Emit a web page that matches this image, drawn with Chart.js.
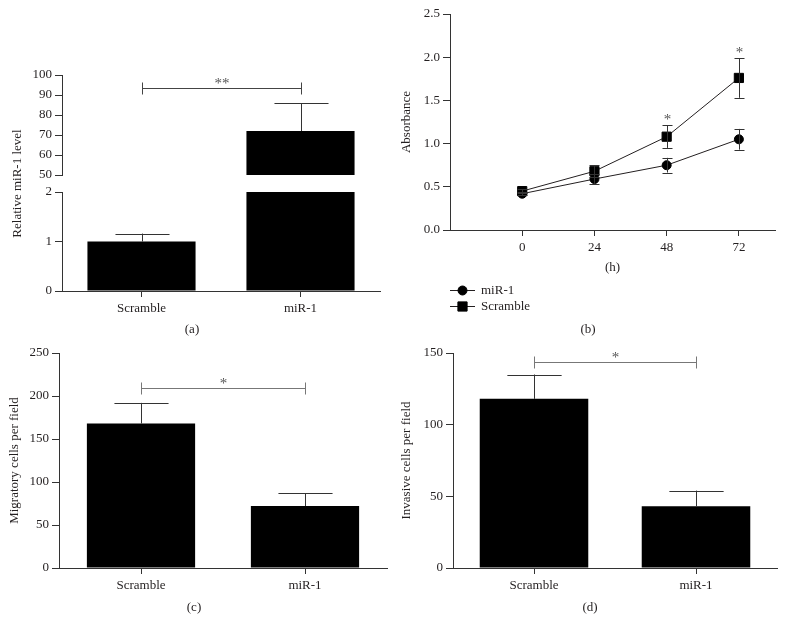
<!DOCTYPE html>
<html><head><meta charset="utf-8">
<script src="https://cdn.jsdelivr.net/npm/chart.js@4.4.0/dist/chart.umd.min.js"></script>
<style>
html,body{margin:0;padding:0;background:#fff;}
body{width:785px;height:634px;position:relative;overflow:hidden;font-family:'Liberation Serif',serif;}
canvas{position:absolute;}
.lbl{position:absolute;font-size:13px;color:#231f20;transform:translateX(-50%);white-space:nowrap;line-height:13px;}
</style></head>
<body>
<canvas id="ca" width="390" height="270" style="left:0;top:60px"></canvas>
<canvas id="cb" width="390" height="320" style="left:395px;top:0"></canvas>
<canvas id="cc" width="390" height="304" style="left:0;top:330px"></canvas>
<canvas id="cd" width="393" height="304" style="left:392px;top:330px"></canvas>
<div class="lbl" style="left:192px;top:322px">(a)</div>
<div class="lbl" style="left:588px;top:322px">(b)</div>
<div class="lbl" style="left:194px;top:600px">(c)</div>
<div class="lbl" style="left:590px;top:600px">(d)</div>
<script>
// ---------- data ----------
const barCategories = ['Scramble', 'miR-1'];
const relLevel = [1, 72];
const relLevelErr = [0.16, 14];
const relLowRange = [0, 2];
const relHighRange = [50, 100];
const relLowTicks = 1;
const relHighTicks = 10;
const relBracket = 93.5;

const hours = [0, 24, 48, 72];
const absMiR1 = [0.42, 0.59, 0.75, 1.05];
const absMiR1Err = [0.02, 0.06, 0.085, 0.12];
const absScramble = [0.45, 0.68, 1.08, 1.76];
const absScrambleErr = [0.02, 0.07, 0.13, 0.23];
const absStarIdx = [2, 3];

const migratory = [168, 72];
const migratoryErr = [24, 15];
const migratoryBracket = 209;

const invasive = [118, 43];
const invasiveErr = [17, 11];
const invasiveBracket = 143.5;

// ---------- style ----------
const ink = '#231f20';
const axisInk = '#333333';
Chart.defaults.font.family = "'Liberation Serif', serif";
Chart.defaults.font.size = 13;
Chart.defaults.color = ink;

const annotPlugin = {
  id: 'annot',
  afterDatasetsDraw(chart, args, opts) {
    const ctx = chart.ctx;
    ctx.save();
    ctx.lineWidth = 1;
    (opts.errorBars || []).forEach(eb => {
      const meta = chart.getDatasetMeta(eb.dataset);
      const ys = chart.scales[meta.yAxisID];
      eb.values.forEach((v, j) => {
        if (v == null || eb.errors[j] == null) return;
        const el = meta.data[j];
        const x = Math.round(el.x) + 0.5;
        const half = eb.capHalf != null ? eb.capHalf : el.width / 4;
        const yHi = ys.getPixelForValue(v + eb.errors[j]);
        const yLo = eb.upperOnly ? ys.getPixelForValue(v) : ys.getPixelForValue(v - eb.errors[j]);
        ctx.strokeStyle = eb.color || axisInk;
        ctx.beginPath();
        ctx.moveTo(x, yLo); ctx.lineTo(x, yHi);
        ctx.moveTo(x - half, Math.round(yHi) + 0.5); ctx.lineTo(x + half, Math.round(yHi) + 0.5);
        if (!eb.upperOnly) { ctx.moveTo(x - half, Math.round(yLo) + 0.5); ctx.lineTo(x + half, Math.round(yLo) + 0.5); }
        ctx.stroke();
        if (eb.stars && eb.stars.includes(j)) {
          ctx.fillStyle = '#555';
          ctx.font = "15px 'Liberation Serif', serif";
          ctx.textAlign = 'center'; ctx.textBaseline = 'alphabetic';
          ctx.fillText('*', x, yHi - 8 + 7);
        }
      });
    });
    (opts.brackets || []).forEach(br => {
      const xs = chart.scales.x, ys = chart.scales[br.axis];
      const x1 = Math.round(xs.getPixelForValue(br.from)) + 0.5;
      const x2 = Math.round(xs.getPixelForValue(br.to)) + 0.5;
      const y = Math.round(ys.getPixelForValue(br.value)) + 0.5;
      ctx.strokeStyle = br.color || '#444';
      ctx.beginPath();
      ctx.moveTo(x1, y); ctx.lineTo(x2, y);
      ctx.moveTo(x1, y - 6); ctx.lineTo(x1, y + 6);
      ctx.moveTo(x2, y - 6); ctx.lineTo(x2, y + 6);
      ctx.stroke();
      ctx.fillStyle = '#555';
      ctx.font = "15px 'Liberation Serif', serif";
      ctx.textAlign = 'center'; ctx.textBaseline = 'alphabetic';
      ctx.fillText(br.text, (x1 + x2) / 2, y - 8 + 7);
    });
    ctx.restore();
  }
};

const lineLegend = {
  id: 'lineLegend',
  afterDraw(chart, args, opts) {
    if (!opts.show) return;
    const ctx = chart.ctx;
    const x0 = chart.chartArea.left;
    ctx.save();
    chart.data.datasets.forEach((ds, i) => {
      const y = Math.round(chart.chartArea.bottom + opts.offsetY + i * opts.rowGap) + 0.5;
      ctx.strokeStyle = ink; ctx.lineWidth = 1;
      ctx.beginPath(); ctx.moveTo(x0, y); ctx.lineTo(x0 + 25, y); ctx.stroke();
      ctx.fillStyle = '#000'; ctx.strokeStyle = '#000';
      Chart.helpers.drawPoint(ctx, {pointStyle: ds.pointStyle, radius: ds.pointRadius, borderWidth: 1, rotation: 0}, x0 + 12.5, y);
      ctx.fillStyle = ink;
      ctx.font = "13px 'Liberation Serif', serif";
      ctx.textAlign = 'left'; ctx.textBaseline = 'middle';
      ctx.fillText(ds.label, x0 + 31, y);
    });
    ctx.restore();
  }
};
Chart.register(annotPlugin, lineLegend);

function yScale(width, extra) {
  const base = {
    type: 'linear', position: 'left',
    border: {color: axisInk, width: 1},
    grid: {drawOnChartArea: false, drawTicks: true, tickLength: 7, tickColor: axisInk, tickWidth: 1},
    ticks: {color: ink, padding: 3, font: {size: 13}, autoSkip: false},
    afterFit: s => { s.width = width; }
  };
  return Object.assign(base, extra, {
    ticks: Object.assign({}, base.ticks, (extra || {}).ticks || {}),
    title: Object.assign({display: false, color: ink, font: {size: 13}, padding: {top: 4, bottom: 4}}, (extra || {}).title || {})
  });
}
function catX(height) {
  return {
    type: 'category', offset: true,
    border: {color: axisInk, width: 1},
    grid: {offset: false, drawOnChartArea: false, drawTicks: true, tickLength: 6, tickColor: axisInk},
    ticks: {color: ink, padding: 4, font: {size: 13}, autoSkip: false},
    afterFit: s => { s.height = height; }
  };
}
const common = {responsive: false, animation: false, events: []};

// ---------- (a) ----------
new Chart(document.getElementById('ca'), {
  type: 'bar',
  data: {
    labels: barCategories,
    datasets: [
      {label: 'high', yAxisID: 'yTop', grouped: false, backgroundColor: '#000', borderWidth: 0,
       barPercentage: 0.68, categoryPercentage: 1,
       data: relLevel.map(v => v > relLowRange[1] ? [relHighRange[0], v] : null)},
      {label: 'low', yAxisID: 'yBot', grouped: false, backgroundColor: '#000', borderWidth: 0,
       barPercentage: 0.68, categoryPercentage: 1,
       data: relLevel.map(v => Math.min(v, relLowRange[1]))}
    ]
  },
  options: Object.assign({}, common, {
    layout: {padding: {left: 6, right: 10, top: 15, bottom: 9}},
    plugins: {
      legend: {display: false}, tooltip: {enabled: false},
      annot: {
        errorBars: [
          {dataset: 1, upperOnly: true, values: relLevel.map(v => v <= relLowRange[1] ? v : null), errors: relLevelErr},
          {dataset: 0, upperOnly: true, values: relLevel.map(v => v > relLowRange[1] ? v : null), errors: relLevelErr}
        ],
        brackets: [{from: 0, to: 1, axis: 'yTop', value: relBracket, text: '**', color: '#444'}]
      }
    },
    scales: {
      x: catX(30),
      yTop: yScale(56, {stack: 'brk', stackWeight: 100, weight: 3, min: relHighRange[0], max: relHighRange[1], ticks: {stepSize: relHighTicks}}),
      yGap: yScale(56, {stack: 'brk', stackWeight: 17, weight: 2, min: 0, max: 1,
        ticks: {display: false}, grid: {display: false}, border: {display: false},
        title: {display: true, text: 'Relative miR-1 level'}}),
      yBot: yScale(56, {stack: 'brk', stackWeight: 99, weight: 1, min: relLowRange[0], max: relLowRange[1], ticks: {stepSize: relLowTicks}})
    }
  })
});

// ---------- (b) ----------
new Chart(document.getElementById('cb'), {
  type: 'line',
  data: {
    datasets: [
      {label: 'miR-1', data: hours.map((h, i) => ({x: h, y: absMiR1[i]})),
       borderColor: ink, borderWidth: 1, tension: 0, pointStyle: 'circle', pointRadius: 4.5,
       pointBackgroundColor: '#000', pointBorderColor: '#000', pointBorderWidth: 1},
      {label: 'Scramble', data: hours.map((h, i) => ({x: h, y: absScramble[i]})),
       borderColor: ink, borderWidth: 1, tension: 0, pointStyle: 'rect', pointRadius: 6.5,
       pointBackgroundColor: '#000', pointBorderColor: '#000', pointBorderWidth: 1}
    ]
  },
  options: Object.assign({}, common, {
    layout: {padding: {left: 0, right: 10, top: 14, bottom: 41}},
    plugins: {
      legend: {display: false}, tooltip: {enabled: false},
      annot: {
        errorBars: [
          {dataset: 0, capHalf: 5, values: absMiR1, errors: absMiR1Err},
          {dataset: 1, capHalf: 5, values: absScramble, errors: absScrambleErr, stars: absStarIdx}
        ]
      },
      lineLegend: {show: true, offsetY: 60, rowGap: 16}
    },
    scales: {
      x: {
        type: 'linear', min: -24, max: 84,
        border: {color: axisInk, width: 1},
        grid: {drawOnChartArea: false, drawTicks: true, tickLength: 6, tickColor: axisInk},
        ticks: {color: ink, padding: 4, font: {size: 13}},
        afterBuildTicks: s => { s.ticks = hours.map(v => ({value: v})); },
        title: {display: true, text: '(h)', color: ink, font: {size: 13}, padding: {top: 4, bottom: 4}},
        afterFit: s => { s.height = 49; }
      },
      y: yScale(55, {min: 0, max: 2.5, ticks: {stepSize: 0.5, callback: v => Number(v).toFixed(1)},
        title: {display: true, text: 'Absorbance'}})
    }
  })
});

// ---------- (c) / (d) ----------
function simpleBar(id, values, errs, bracketVal, yMax, yStep, title, yWidth, pad, pct) {
  new Chart(document.getElementById(id), {
    type: 'bar',
    data: {labels: barCategories, datasets: [{label: title, data: values, backgroundColor: '#000', borderWidth: 0,
      barPercentage: pct, categoryPercentage: 1}]},
    options: Object.assign({}, common, {
      layout: {padding: pad},
      plugins: {
        legend: {display: false}, tooltip: {enabled: false},
        annot: {
          errorBars: [{dataset: 0, upperOnly: true, values: values, errors: errs}],
          brackets: [{from: 0, to: 1, axis: 'y', value: bracketVal, text: '*', color: '#777'}]
        }
      },
      scales: {
        x: catX(30),
        y: yScale(yWidth, {min: 0, max: yMax, ticks: {stepSize: yStep}, title: {display: true, text: title}})
      }
    })
  });
}
simpleBar('cc', migratory, migratoryErr, migratoryBracket, 250, 50, 'Migratory cells per field', 56,
  {left: 3, right: 3, top: 23, bottom: 36}, 0.66);
simpleBar('cd', invasive, invasiveErr, invasiveBracket, 150, 50, 'Invasive cells per field', 58,
  {left: 3, right: 8, top: 23, bottom: 36}, 0.67);
</script>
</body></html>
